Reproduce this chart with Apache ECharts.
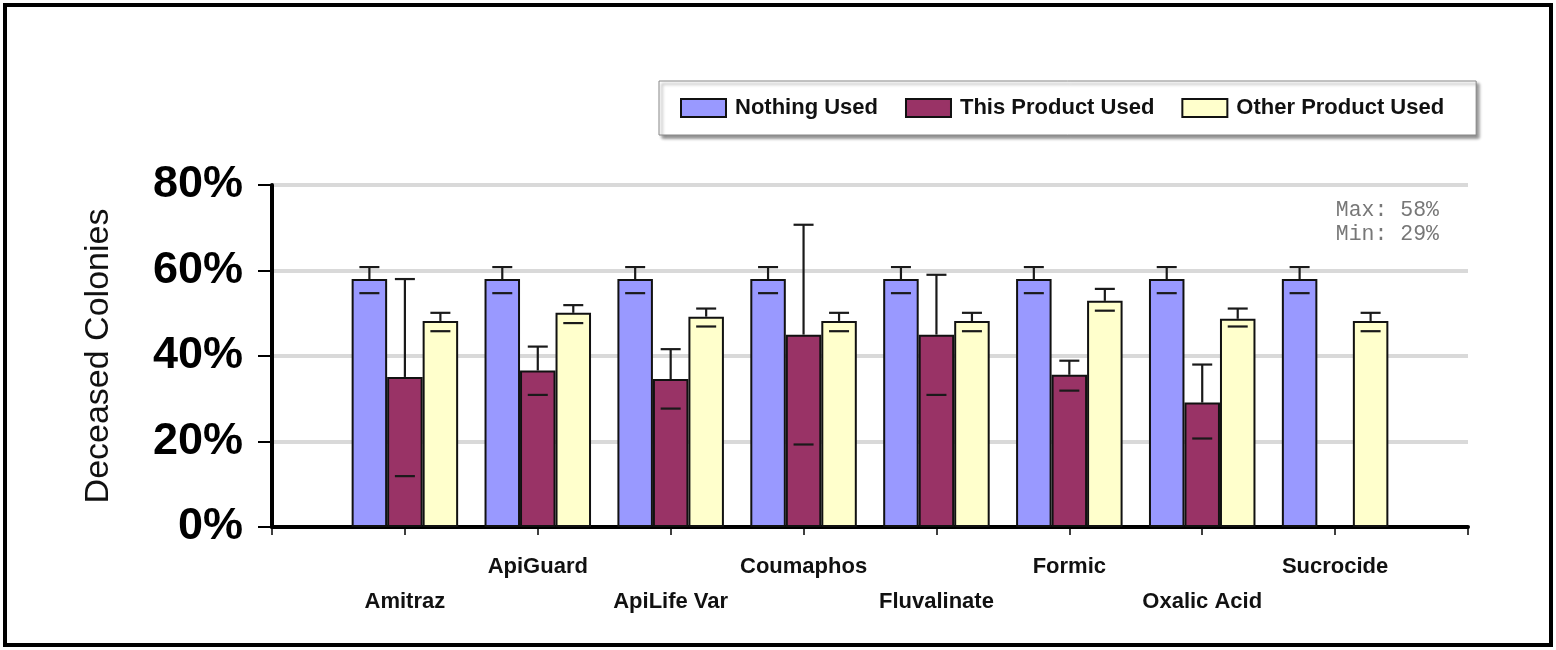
<!DOCTYPE html>
<html>
<head>
<meta charset="utf-8">
<script src="https://cdn.jsdelivr.net/npm/echarts@6/dist/echarts.min.js"></script>
<style>
html,body{margin:0;padding:0;background:#fff;}
#chart{width:1556px;height:650px;}
</style>
</head>
<body>
<div id="chart"></div>
<script>
// ---- data ----
const categories = ['Amitraz','ApiGuard','ApiLife Var','Coumaphos','Fluvalinate','Formic','Oxalic Acid','Sucrocide'];
const seriesNames = ['Nothing Used','This Product Used','Other Product Used'];
const nothingUsed = [58.0, 58.0, 58.0, 58.0, 58.0, 58.0, 58.0, 58.0];
const nothingLow  = [54.7, 54.7, 54.7, 54.7, 54.7, 54.7, 54.7, 54.7];
const nothingHigh = [60.8, 60.8, 60.8, 60.8, 60.8, 60.8, 60.8, 60.8];
const thisUsed = [35.1, 36.6, 34.6, 45.0, 45.0, 35.6, 29.1, null];
const thisLow  = [11.9, 30.9, 27.7, 19.3, 30.9, 31.9, 20.7, null];
const thisHigh = [58.0, 42.2, 41.6, 70.7, 59.0, 38.9, 38.0, null];
const otherUsed = [48.2, 50.1, 49.2, 48.2, 48.2, 52.9, 48.7, 48.2];
const otherLow  = [45.8, 47.7, 46.9, 45.8, 45.8, 50.6, 46.9, 45.8];
const otherHigh = [50.1, 51.9, 51.1, 50.1, 50.1, 55.7, 51.1, 50.1];
const yTicks = [0, 20, 40, 60, 80];

// ---- build ----
const axisCats = [''].concat(categories, ['']);
const pad = arr => [null].concat(arr, [null]);
const BW = 35.5;
const colors = ['#9999FF', '#993366', '#FFFFCC'];

function barSeries(i, vals) {
  return {
    name: seriesNames[i], type: 'bar', data: pad(vals),
    barWidth: BW, barGap: '0%',
    itemStyle: { color: colors[i], borderColor: '#111', borderWidth: 2 },
    emphasis: { disabled: true }, z: 2
  };
}
function errSeries(i, vals, lows, highs) {
  const data = [];
  vals.forEach((v, k) => { if (v != null) data.push([k + 1, lows[k], highs[k], v]); });
  const off = (i - 1) * BW;
  return {
    type: 'custom', data: data, z: 5, silent: true,
    encode: { x: 0, y: [1, 2, 3] },
    renderItem: function (params, api) {
      const cx = api.coord([api.value(0), 0])[0] + off;
      const yLow = api.coord([api.value(0), api.value(1)])[1];
      const yHigh = api.coord([api.value(0), api.value(2)])[1];
      const yBar = api.coord([api.value(0), api.value(3)])[1];
      const st = { stroke: '#1a1a1a', lineWidth: 2.2 };
      return {
        type: 'group', children: [
          { type: 'line', shape: { x1: cx, y1: yBar, x2: cx, y2: yHigh }, style: st },
          { type: 'line', shape: { x1: cx - 10, y1: yHigh, x2: cx + 10, y2: yHigh }, style: st },
          { type: 'line', shape: { x1: cx - 10, y1: yLow, x2: cx + 10, y2: yLow }, style: st }
        ]
      };
    }
  };
}

const allVals = nothingUsed.concat(thisUsed, otherUsed).filter(v => v != null);
const maxV = Math.round(Math.max.apply(null, allVals));
const minV = Math.round(Math.min.apply(null, allVals));

const chart = echarts.init(document.getElementById('chart'));
chart.setOption({
  animation: false,
  backgroundColor: '#fff',
  grid: { left: 272, right: 88, top: 185, bottom: 123 },
  legend: {
    data: seriesNames.map(n => ({ name: n, icon: 'rect' })),
    left: 659, top: 81,
    padding: [16, 32, 16, 21],
    itemWidth: 45, itemHeight: 18, itemGap: 27,
    backgroundColor: '#fff', borderColor: '#888', borderWidth: 1,
    shadowColor: 'rgba(0,0,0,0.45)', shadowBlur: 3, shadowOffsetX: 3, shadowOffsetY: 3,
    textStyle: { fontFamily: 'Arial, "Liberation Sans"', fontWeight: 'bold', fontSize: 22, color: '#111', padding: [0, 0, 0, 4] },
    selectedMode: false
  },
  xAxis: {
    type: 'category', data: axisCats, boundaryGap: false,
    axisLine: { lineStyle: { color: '#000', width: 4 } },
    axisTick: { show: true, interval: 0, length: 8, lineStyle: { color: '#000', width: 1.5 } },
    axisLabel: {
      interval: 0, margin: 22, lineHeight: 35,
      fontFamily: 'Arial, "Liberation Sans"', fontWeight: 'bold', fontSize: 22, color: '#111',
      formatter: function (v, i) { return (i % 2 === 1) ? '\n' + v : v; }
    },
    splitLine: { show: false }
  },
  yAxis: {
    type: 'value', min: yTicks[0], max: yTicks[yTicks.length - 1], interval: 20,
    name: 'Deceased Colonies', nameLocation: 'middle', nameGap: 156, nameRotate: 90,
    nameTextStyle: { fontFamily: 'Arial, "Liberation Sans"', fontSize: 34, color: '#111' },
    axisLine: { show: true, lineStyle: { color: '#000', width: 4 } },
    axisTick: { show: true, length: 14, lineStyle: { color: '#000', width: 2 } },
    axisLabel: {
      margin: 29, formatter: v => v + '%',
      fontFamily: 'Arial, "Liberation Sans"', fontWeight: 'bold', fontSize: 45, color: '#000'
    },
    splitLine: { show: true, lineStyle: { color: '#d9d9d9', width: 4 } }
  },
  graphic: [
    { type: 'rect', shape: { x: 5, y: 5, width: 1546, height: 640 }, style: { fill: 'none', stroke: '#000', lineWidth: 4 }, z: 100, silent: true },
    { type: 'text', x: 1439, y: 210, style: { text: 'Max: ' + maxV + '%', font: '21.5px "Liberation Mono", "Courier New", monospace', fill: '#777', align: 'right', verticalAlign: 'middle' }, z: 50 },
    { type: 'text', x: 1439, y: 234, style: { text: 'Min: ' + minV + '%', font: '21.5px "Liberation Mono", "Courier New", monospace', fill: '#777', align: 'right', verticalAlign: 'middle' }, z: 50 }
  ],
  series: [
    barSeries(0, nothingUsed),
    barSeries(1, thisUsed),
    barSeries(2, otherUsed),
    errSeries(0, nothingUsed, nothingLow, nothingHigh),
    errSeries(1, thisUsed, thisLow, thisHigh),
    errSeries(2, otherUsed, otherLow, otherHigh)
  ]
});
</script>
</body>
</html>
